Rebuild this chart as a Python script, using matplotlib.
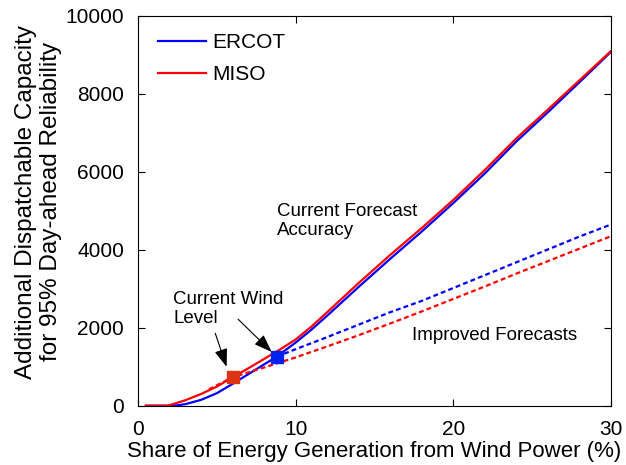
import matplotlib
matplotlib.use("Agg")
import matplotlib.pyplot as plt

plt.rcParams["font.family"] = ["Liberation Sans", "DejaVu Sans"]

# share of wind (%) vs. additional dispatchable capacity
ercot_x = [0.5, 1, 2, 2.5, 3, 4, 5, 6, 7, 8, 8.8, 10, 11, 12, 14, 16, 18, 20, 22, 24, 26, 28, 30]
ercot_y = [0, 0, 0, 10, 40, 150, 320, 560, 810, 1060, 1260, 1620, 1950, 2310, 3050, 3770,
           4470, 5200, 5960, 6780, 7530, 8300, 9080]
miso_x = [0.5, 1, 1.9, 3, 4, 5, 6, 7, 8, 9, 10, 11, 12, 14, 16, 18, 20, 22, 24, 26, 28, 30]
miso_y = [0, 0, 0, 140, 300, 490, 730, 960, 1200, 1440, 1700, 2030, 2400, 3150, 3870,
          4560, 5280, 6050, 6860, 7600, 8350, 9100]

# improved forecasts
ercot_imp_x = [8.8, 10, 12, 14, 16, 18, 20, 22, 24, 26, 28, 30]
ercot_imp_y = [1260, 1450, 1760, 2080, 2400, 2690, 3020, 3350, 3680, 4010, 4340, 4650]
miso_imp_x = [4.5, 6, 8, 10, 12, 14, 16, 18, 20, 22, 24, 26, 28, 30]
miso_imp_y = [420, 730, 980, 1240, 1520, 1810, 2110, 2420, 2740, 3060, 3390, 3710, 4030, 4350]

# current wind level
ercot_now = (8.8, 1260)
miso_now = (6.0, 730)

fig = plt.figure(figsize=(6.26, 4.65), dpi=100)
ax = fig.add_axes([0.2204, 0.1275, 0.7556, 0.8381])

ax.plot(ercot_x, ercot_y, color="#0000ff", lw=1.6, label="ERCOT")
ax.plot(miso_x, miso_y, color="#ff0000", lw=1.6, label="MISO")
ax.plot(ercot_imp_x, ercot_imp_y, color="#0000ff", lw=1.6, dashes=(2.2, 1.4))
ax.plot(miso_imp_x, miso_imp_y, color="#ff0000", lw=1.6, dashes=(2.2, 1.4))

ax.plot(*miso_now, marker="s", ms=8, color="#dd3311", ls="none")
ax.plot(*ercot_now, marker="s", ms=8, color="#0022ee", ls="none")

arrow_style = dict(arrowstyle="-|>,head_length=1.1,head_width=0.4", color="black",
                   lw=0.8, shrinkA=0, shrinkB=0)
ax.annotate("", xy=(5.62, 1000), xytext=(4.9, 1860), arrowprops=arrow_style)
ax.annotate("", xy=(8.48, 1380), xytext=(6.35, 2220), arrowprops=arrow_style)

ax.text(2.25, 2480, "Current Wind\nLevel", fontsize=13.5, va="center", ha="left",
        linespacing=1.15)
ax.text(8.8, 4730, "Current Forecast\nAccuracy", fontsize=13.5, va="center", ha="left",
        linespacing=1.15)
ax.text(17.35, 1810, "Improved Forecasts", fontsize=13.5, va="center", ha="left")

ax.set_xlim(0, 30)
ax.set_ylim(0, 10000)
ax.set_xticks([0, 10, 20, 30])
ax.set_yticks([0, 2000, 4000, 6000, 8000, 10000])
ax.tick_params(direction="in", top=True, right=True, length=5, labelsize=15, pad=10)
ax.set_xlabel("Share of Energy Generation from Wind Power (%)", fontsize=16, labelpad=2)
ax.set_ylabel("Additional Dispatchable Capacity\nfor 95% Day-ahead Reliability",
              fontsize=17.5, linespacing=1.2)
ax.yaxis.set_label_coords(-0.16, 0.523)

ax.legend(loc="upper left", bbox_to_anchor=(0.011, 0.993), frameon=False, fontsize=15,
          handlelength=2.3, borderaxespad=0.3, labelspacing=0.6, handletextpad=0.3)

fig.savefig("out.png", dpi=100)
